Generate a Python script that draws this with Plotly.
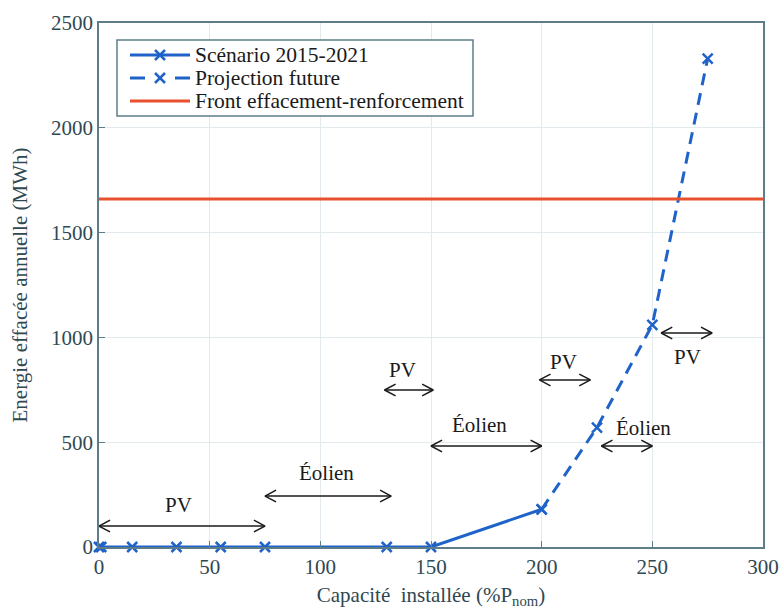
import plotly.graph_objects as go

# ---- data ----
x_scenario = [0, 1, 15, 35, 55, 75, 130, 150, 200]
y_scenario = [0, 0, 0, 0, 0, 0, 0, 0, 180]
x_projection = [200, 225, 250, 275]
y_projection = [180, 570, 1060, 2330]
front_value = 1660
x_ticks = [0, 50, 100, 150, 200, 250, 300]
y_ticks = [0, 500, 1000, 1500, 2000, 2500]

arrow_labels = ["PV", "Éolien", "PV", "Éolien", "PV", "Éolien", "PV"]
arrow_x0 = [0, 75, 129, 150, 199, 227, 254]
arrow_x1 = [75, 132, 151, 200, 222, 250, 277]
arrow_y = [100, 243, 749, 482, 797, 482, 1021]
label_x = [36, 103, 137, 172, 210, 246, 266]
label_y = [200, 353, 844, 582, 883, 568, 906]

legend_names = ["Scénario 2015-2021", "Projection future", "Front effacement-renforcement"]

BLUE = "#1f63c9"
RED = "#e8502e"
AXIS = "#5d7d88"
TEXT = "#2f4852"
DARK = "#1a1a1a"
FONT = "Liberation Serif"
FS = 21

# plot-area geometry (pixels) used to place the hand-drawn legend in paper coords
W, H = 784, 613
ML, MR, MT, MB = 99, 21, 23, 66
PW, PH = W - ML - MR, H - MT - MB


def px(xp):
    return (xp - ML) / PW


def py(yp):
    return (H - MB - yp) / PH


fig = go.Figure()

fig.add_trace(go.Scatter(
    x=x_scenario, y=y_scenario, mode="lines+markers", name=legend_names[0],
    line=dict(color=BLUE, width=3),
    marker=dict(symbol="x-thin", size=10, line=dict(color=BLUE, width=2.5)),
    cliponaxis=False, showlegend=False,
))
fig.add_trace(go.Scatter(
    x=x_projection, y=y_projection, mode="lines+markers", name=legend_names[1],
    line=dict(color=BLUE, width=3, dash="12px,8px"),
    marker=dict(symbol="x-thin", size=10, line=dict(color=BLUE, width=2.5)),
    cliponaxis=False, showlegend=False,
))
fig.add_trace(go.Scatter(
    x=[x_ticks[0], x_ticks[-1]], y=[front_value, front_value], mode="lines",
    name=legend_names[2], line=dict(color=RED, width=3), showlegend=False,
))

# double-headed arrows (open V heads)
hx = 5.0   # head length in x units
hy = 28.0  # head half-height in y units
ax, ay = [], []
for x0, x1, y in zip(arrow_x0, arrow_x1, arrow_y):
    ax += [x0, x1, None]
    ay += [y, y, None]
    ax += [x0 + hx, x0, x0 + hx, None]
    ay += [y + hy, y, y - hy, None]
    ax += [x1 - hx, x1, x1 - hx, None]
    ay += [y + hy, y, y - hy, None]
fig.add_trace(go.Scatter(
    x=ax, y=ay, mode="lines", line=dict(color=DARK, width=1.5),
    showlegend=False, hoverinfo="skip", cliponaxis=False,
))

for t, x, y in zip(arrow_labels, label_x, label_y):
    fig.add_annotation(x=x, y=y, text=t, showarrow=False,
                       font=dict(family=FONT, size=FS, color=DARK))

# ---- hand-drawn legend (MATLAB style) ----
shapes = []
shapes.append(dict(type="rect", xref="paper", yref="paper",
                   x0=px(117), x1=px(473), y0=py(116), y1=py(40),
                   line=dict(color=AXIS, width=1.5), fillcolor="white", layer="above"))
rows = [55, 78, 101]
styles = [(BLUE, "solid", True), (BLUE, "dash", True), (RED, "solid", False)]
for yr, (col, dash, mk) in zip(rows, styles):
    if dash == "solid":
        shapes.append(dict(type="line", xref="paper", yref="paper",
                           x0=px(130), x1=px(190), y0=py(yr), y1=py(yr),
                           line=dict(color=col, width=3), layer="above"))
    else:
        for a, b in [(130, 145), (175, 190)]:
            shapes.append(dict(type="line", xref="paper", yref="paper",
                               x0=px(a), x1=px(b), y0=py(yr), y1=py(yr),
                               line=dict(color=col, width=3), layer="above"))
    if mk:
        for d in (1, -1):
            shapes.append(dict(type="line", xref="paper", yref="paper",
                               x0=px(155), x1=px(165), y0=py(yr - 5 * d), y1=py(yr + 5 * d),
                               line=dict(color=col, width=2.5), layer="above"))
for yr, name in zip(rows, legend_names):
    fig.add_annotation(xref="paper", yref="paper", x=px(193), y=py(yr),
                       xanchor="left", yanchor="middle", text=name, showarrow=False,
                       font=dict(family=FONT, size=FS + 0.5, color=DARK))

fig.update_layout(
    width=W, height=H,
    margin=dict(l=ML, r=MR, t=MT, b=MB),
    plot_bgcolor="white", paper_bgcolor="white",
    font=dict(family=FONT, size=FS, color=TEXT),
    showlegend=False,
    shapes=shapes,
)
fig.update_xaxes(
    range=[0, 300], tickvals=x_ticks, ticks="inside", ticklen=6, tickcolor=AXIS,
    showline=True, linecolor=AXIS, linewidth=1.5, mirror=True,
    showgrid=True, gridcolor="#e3eaed", gridwidth=1, zeroline=False,
    tickfont=dict(family=FONT, size=FS, color=TEXT), automargin=False,
    title=dict(text="Capacité  installée (%P<sub>nom</sub>)", standoff=9,
               font=dict(family=FONT, size=FS, color=TEXT)),
)
fig.update_yaxes(
    range=[0, 2500], tickvals=y_ticks, ticks="inside", ticklen=6, tickcolor=AXIS,
    showline=True, linecolor=AXIS, linewidth=1.5, mirror=True,
    showgrid=True, gridcolor="#e3eaed", gridwidth=1, zeroline=False,
    tickfont=dict(family=FONT, size=FS, color=TEXT), automargin=False,
    title=dict(text="Energie effacée annuelle (MWh)", standoff=18,
               font=dict(family=FONT, size=FS, color=TEXT)),
)

fig.write_html("out.html", config={"displayModeBar": False},
               post_script="document.body.style.margin='0';document.body.style.padding='0';")
